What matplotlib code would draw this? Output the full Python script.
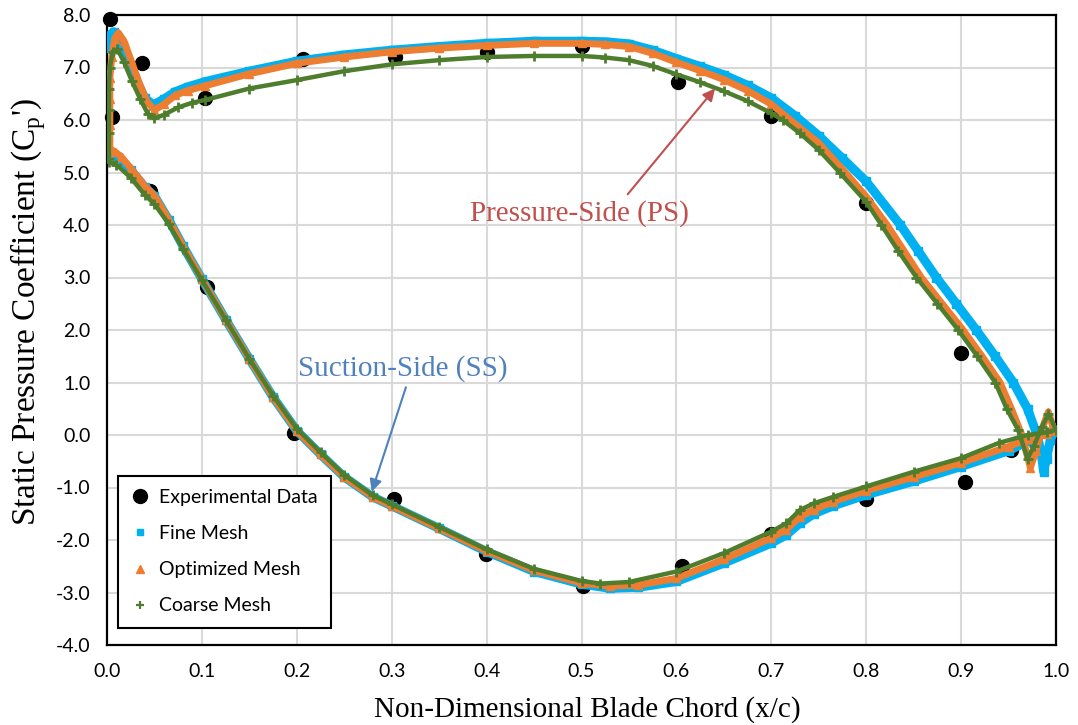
import matplotlib
matplotlib.use("Agg")
import matplotlib.pyplot as plt
from matplotlib.lines import Line2D

# ---- experimental data ----
exp_x = [0.003, 0.005, 0.037, 0.045, 0.103, 0.105, 0.197, 0.207, 0.302, 0.303,
         0.40, 0.399, 0.50, 0.502, 0.602, 0.606, 0.70, 0.70, 0.80, 0.80,
         0.90, 0.904, 0.953]
exp_y = [7.92, 6.06, 7.09, 4.65, 6.42, 2.82, 0.04, 7.16, -1.22, 7.2,
         7.3, -2.27, 7.41, -2.87, 6.73, -2.5, 6.08, -1.89, 4.42, -1.22,
         1.56, -0.90, -0.29]

# ---- fine mesh ----
fine_ps_x = [0.0, 0.002, 0.007, 0.015, 0.022, 0.03, 0.04, 0.049, 0.06, 0.072, 0.085,
             0.103, 0.15, 0.2, 0.25, 0.3, 0.35, 0.4, 0.45, 0.5, 0.525, 0.55, 0.575,
             0.6, 0.625, 0.65, 0.675, 0.7, 0.725, 0.75, 0.775, 0.8, 0.836, 0.855,
             0.874, 0.895, 0.916, 0.936, 0.955, 0.97, 0.98, 0.984,
             0.987, 0.99, 0.994, 0.997, 1.0]
fine_ps_y = [7.37, 7.6, 7.68, 7.45, 7.14, 6.8, 6.41, 6.29, 6.4, 6.54, 6.63,
             6.73, 6.93, 7.12, 7.24, 7.33, 7.4, 7.46, 7.5, 7.5, 7.49, 7.45, 7.33,
             7.17, 7.02, 6.86, 6.66, 6.42, 6.08, 5.7, 5.27, 4.83, 4.0, 3.5,
             3.0, 2.5, 2.0, 1.5, 1.0, 0.5, 0.0, -0.3,
             -0.7, -0.45, -0.1, 0.05, 0.1]
fine_ss_x = [0.0, 0.005, 0.012, 0.025, 0.04, 0.05, 0.065, 0.08, 0.1, 0.125, 0.15,
             0.175, 0.2, 0.225, 0.25, 0.28, 0.3, 0.35, 0.4, 0.45, 0.5, 0.53, 0.56,
             0.6, 0.65, 0.7, 0.716, 0.73, 0.745, 0.765, 0.8, 0.85, 0.9, 0.95,
             0.97, 0.98, 0.99, 1.0]
fine_ss_y = [5.4, 5.38, 5.3, 5.05, 4.72, 4.55, 4.1, 3.6, 2.97, 2.2, 1.45,
             0.72, 0.08, -0.37, -0.8, -1.18, -1.35, -1.78, -2.22, -2.6, -2.84, -2.92, -2.9,
             -2.79, -2.44, -2.06, -1.9, -1.68, -1.5, -1.35, -1.14, -0.88, -0.6, -0.3,
             -0.12, -0.02, 0.03, 0.08]

# ---- optimized mesh ----
opt_ps_x = [0.003, 0.003, 0.003, 0.003, 0.005, 0.008, 0.012, 0.018, 0.025, 0.033,
            0.042, 0.05, 0.06, 0.072, 0.085, 0.103, 0.15, 0.2, 0.25, 0.3, 0.35,
            0.4, 0.45, 0.5, 0.525, 0.55, 0.575, 0.6, 0.625, 0.65, 0.675, 0.7, 0.72,
            0.75, 0.778, 0.8, 0.822, 0.84, 0.858, 0.88, 0.902, 0.922, 0.941, 0.953,
            0.964, 0.973, 0.979, 0.985, 0.992, 0.996, 1.0]
opt_ps_y = [5.45, 5.9, 6.4, 6.8, 7.2, 7.55, 7.66, 7.5, 7.15, 6.75,
            6.35, 6.19, 6.3, 6.47, 6.56, 6.65, 6.88, 7.08, 7.2, 7.3, 7.37,
            7.42, 7.46, 7.46, 7.44, 7.4, 7.27, 7.1, 6.94, 6.77, 6.56, 6.3, 6.0,
            5.56, 5.0, 4.54, 4.0, 3.5, 3.0, 2.5, 2.0, 1.5, 1.0, 0.5,
            0.0, -0.62, -0.3, 0.1, 0.44, 0.2, 0.1]
opt_ss_x = [0.003, 0.008, 0.015, 0.025, 0.04, 0.05, 0.065, 0.08, 0.1, 0.125, 0.15,
            0.175, 0.2, 0.225, 0.25, 0.28, 0.3, 0.35, 0.4, 0.45, 0.5, 0.53, 0.56,
            0.6, 0.65, 0.7, 0.716, 0.73, 0.745, 0.765, 0.8, 0.85, 0.9, 0.95,
            0.97, 0.99, 1.0]
opt_ss_y = [5.45, 5.4, 5.3, 5.08, 4.74, 4.56, 4.1, 3.6, 2.97, 2.2, 1.45,
            0.72, 0.08, -0.37, -0.8, -1.18, -1.35, -1.78, -2.21, -2.58, -2.82, -2.88, -2.86,
            -2.73, -2.37, -1.96, -1.8, -1.56, -1.42, -1.27, -1.06, -0.8, -0.53, -0.22,
            -0.08, 0.02, 0.08]

# ---- coarse mesh ----
coarse_ps_x = [0.002, 0.002, 0.002, 0.002, 0.003, 0.006, 0.011, 0.018, 0.026, 0.035,
               0.043, 0.05, 0.06, 0.075, 0.09, 0.103, 0.15, 0.2, 0.25, 0.3, 0.35,
               0.4, 0.45, 0.5, 0.525, 0.55, 0.575, 0.6, 0.625, 0.65, 0.675, 0.7, 0.712,
               0.73, 0.75, 0.772, 0.8, 0.816, 0.834, 0.853, 0.875, 0.897, 0.917,
               0.936, 0.948, 0.96, 0.97, 0.977, 0.985, 0.992, 1.0]
coarse_ps_y = [5.25, 5.75, 6.2, 6.6, 7.0, 7.3, 7.35, 7.1, 6.75, 6.4,
               6.12, 6.03, 6.1, 6.24, 6.33, 6.38, 6.6, 6.76, 6.93, 7.06, 7.14,
               7.2, 7.22, 7.22, 7.19, 7.14, 7.03, 6.87, 6.72, 6.55, 6.36, 6.13, 6.0,
               5.75, 5.43, 5.0, 4.44, 4.0, 3.5, 3.0, 2.5, 2.0, 1.5,
               1.0, 0.5, 0.1, -0.45, -0.2, 0.15, 0.4, 0.1]
coarse_ss_x = [0.002, 0.01, 0.025, 0.04, 0.05, 0.065, 0.08, 0.1, 0.125, 0.15,
               0.175, 0.2, 0.225, 0.25, 0.28, 0.3, 0.35, 0.4, 0.45, 0.5, 0.52, 0.55,
               0.6, 0.65, 0.7, 0.716, 0.73, 0.745, 0.765, 0.8, 0.85, 0.9, 0.94,
               0.97, 0.99, 1.0]
coarse_ss_y = [5.2, 5.15, 4.9, 4.57, 4.4, 4.02, 3.55, 2.95, 2.2, 1.45,
               0.75, 0.12, -0.33, -0.76, -1.15, -1.32, -1.75, -2.18, -2.55, -2.78, -2.83, -2.8,
               -2.6, -2.25, -1.84, -1.68, -1.43, -1.3, -1.18, -0.98, -0.7, -0.44, -0.15,
               0.0, 0.05, 0.1]

c_fine = '#00B0F0'
c_opt = '#ED7D31'
c_coarse = '#4E7D2E'

plt.rcParams['font.family'] = ['Lato', 'DejaVu Sans']
serif = 'Liberation Serif'

fig = plt.figure(figsize=(10.78, 7.25), dpi=100)
ax = fig.add_axes([107 / 1078, 1 - 645 / 725, 949 / 1078, 630 / 725])

ax.plot(exp_x, exp_y, 'o', color='black', markersize=10, zorder=3, clip_on=False)

for xs, ys in [(fine_ps_x, fine_ps_y), (fine_ss_x, fine_ss_y)]:
    ax.plot(xs, ys, color=c_fine, lw=6.5, solid_joinstyle='round', zorder=4)
    ax.plot(xs, ys, 's', color=c_fine, markersize=5.5, zorder=4)
for xs, ys in [(opt_ps_x, opt_ps_y), (opt_ss_x, opt_ss_y)]:
    ax.plot(xs, ys, color=c_opt, lw=5, solid_joinstyle='round', zorder=5)
    ax.plot(xs, ys, '^', color=c_opt, markersize=6, zorder=5)
for xs, ys in [(coarse_ps_x, coarse_ps_y), (coarse_ss_x, coarse_ss_y)]:
    ax.plot(xs, ys, color=c_coarse, lw=3.2, solid_joinstyle='round', zorder=6)
    ax.plot(xs, ys, '+', color=c_coarse, markersize=7, mew=2, zorder=6)

ax.set_xlim(0, 1.0)
ax.set_ylim(-4.0, 8.0)
ax.set_xticks([i / 10 for i in range(11)])
ax.set_yticks(range(-4, 9))
ax.set_xticklabels(['%.1f' % (i / 10) for i in range(11)])
ax.set_yticklabels(['%.1f' % v for v in range(-4, 9)])
ax.tick_params(length=0, labelsize=14)
ax.tick_params(axis='x', pad=13)
ax.tick_params(axis='y', pad=12)
ax.grid(True, color='#D9D9D9', lw=1.5)
ax.set_axisbelow(True)
for s in ax.spines.values():
    s.set_linewidth(1.6)
    s.set_color('black')

# axis titles
fig.text(587 / 1078, 1 - 710 / 725, 'Non-Dimensional Blade Chord (x/c)', family=serif,
         fontsize=21, ha='center', va='center')
fig.text(28 / 1078, 1 - 312 / 725, "Static Pressure Coefficient (C$_\\mathregular{p}$')",
         family=serif, fontsize=24, ha='center', va='center', rotation=90)

# side labels with arrows
ax.text(0.498, 4.22, 'Pressure-Side (PS)', family=serif, fontsize=21, color='#C0504D',
        ha='center', va='center', zorder=7)
ax.annotate('', xy=(0.6407, 6.60), xytext=(0.5487, 4.585),
            arrowprops=dict(arrowstyle='-|>', color='#C0504D', lw=1.5,
                            mutation_scale=18, shrinkA=0, shrinkB=0), zorder=7)
ax.text(0.312, 1.27, 'Suction-Side (SS)', family=serif, fontsize=21, color='#4F81BD',
        ha='center', va='center', zorder=7)
ax.annotate('', xy=(0.279, -1.08), xytext=(0.315, 0.91),
            arrowprops=dict(arrowstyle='-|>', color='#4F81BD', lw=1.5,
                            mutation_scale=18, shrinkA=0, shrinkB=0), zorder=7)

handles = [
    Line2D([], [], ls='none', marker='o', color='black', markersize=10),
    Line2D([], [], ls='none', marker='s', color=c_fine, markersize=5),
    Line2D([], [], ls='none', marker='^', color=c_opt, markersize=5.5),
    Line2D([], [], ls='none', marker='+', color=c_coarse, markersize=6, mew=1.6),
]
labels = ['Experimental Data', 'Fine Mesh', 'Optimized Mesh', 'Coarse Mesh']
leg = ax.legend(handles, labels, loc='lower left', bbox_to_anchor=(0.0116, 0.027),
                borderaxespad=0, fontsize=14, frameon=True, fancybox=False,
                edgecolor='black', framealpha=1, handlelength=0.9, handletextpad=0.5,
                labelspacing=0.98, borderpad=0.7)
leg.get_frame().set_linewidth(1.5)
leg.set_zorder(10)

fig.savefig('out.png', dpi=100)
